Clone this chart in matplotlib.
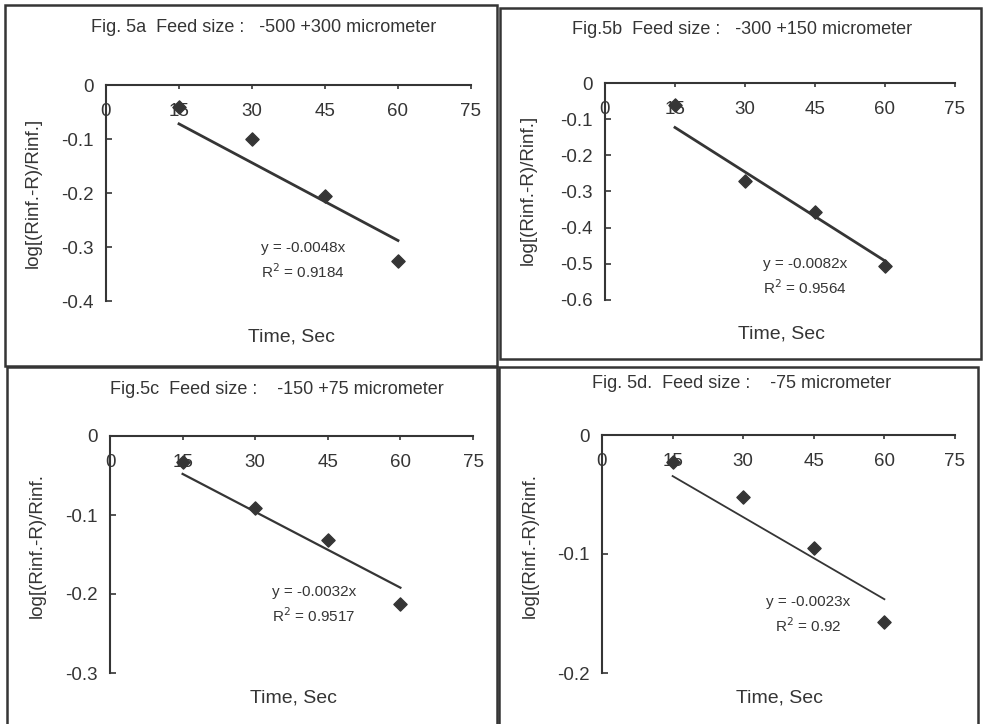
import numpy as np
import matplotlib
matplotlib.use("Agg")
import matplotlib.pyplot as plt
from matplotlib.patches import Rectangle

plt.rcParams['font.family'] = ['Liberation Sans', 'DejaVu Sans']
plt.rcParams['axes.unicode_minus'] = False

INK = '#353535'

# data
time_s = [15, 30, 45, 60]
vals_a = [-0.040, -0.100, -0.206, -0.325]
vals_b = [-0.062, -0.272, -0.358, -0.507]
vals_c = [-0.033, -0.091, -0.132, -0.213]
vals_d = [-0.023, -0.052, -0.095, -0.157]

slopes = [-0.0048, -0.0082, -0.0032, -0.0023]
r2_vals = ['0.9184', '0.9564', '0.9517', '0.92']
titles = ['Fig. 5a  Feed size :   -500 +300 micrometer',
          'Fig.5b  Feed size :   -300 +150 micrometer',
          'Fig.5c  Feed size :    -150 +75 micrometer',
          'Fig. 5d.  Feed size :    -75 micrometer']
ylabels = ['log[(Rinf.-R)/Rinf.]', 'log[(Rinf.-R)/Rinf.]',
           'log[(Rinf.-R)/Rinf.', 'log[(Rinf.-R)/Rinf.']
y_mins = [-0.4, -0.6, -0.3, -0.2]
x_ticks = [0, 15, 30, 45, 60, 75]

W, H = 987, 724
fig = plt.figure(figsize=(W / 100, H / 100), dpi=100)
fig.patch.set_facecolor('white')


def fx(px):
    return px / W


def fy(py):
    return 1 - py / H


# panel layout in pixels: box (l, t, r, b), axes (l, t, r, b), text anchors
panels = [
    dict(box=(5, 5, 497, 366), ax=(106, 85, 471, 301), title=(264, 28),
         ylab=(33, 193), xlab=(291, 337), eq=(303, 241), lw=2.0),
    dict(box=(500, 8, 981, 359), ax=(605, 83, 955, 300), title=(742, 30),
         ylab=(528, 190), xlab=(781, 334), eq=(805, 257), lw=2.0),
    dict(box=(7, 367, 497, 730), ax=(110, 436, 473, 673), title=(277, 390),
         ylab=(37, 545), xlab=(293, 698), eq=(314, 585), lw=1.6),
    dict(box=(499, 367, 978, 730), ax=(602, 435, 955, 673), title=(742, 383),
         ylab=(530, 545), xlab=(779, 698), eq=(808, 595), lw=1.3),
]
series = [vals_a, vals_b, vals_c, vals_d]

for i, p in enumerate(panels):
    bl, bt, br, bb = p['box']
    fig.add_artist(Rectangle((fx(bl), fy(bb)), fx(br - bl), (bb - bt) / H,
                             transform=fig.transFigure, fill=False,
                             edgecolor=INK, linewidth=1.8))

    l, t, r, b = p['ax']
    ax = fig.add_axes([fx(l), fy(b), fx(r - l), (b - t) / H])
    ax.set_facecolor('none')

    ax.scatter(time_s, series[i], marker='D', s=45, color=INK, zorder=3)
    xfit = np.array([time_s[0], time_s[-1]])
    ax.plot(xfit, slopes[i] * xfit, color=INK, linewidth=p['lw'])

    ax.set_xlim(0, 75)
    ax.set_ylim(y_mins[i], 0)
    ax.set_xticks(x_ticks)
    yt = np.round(np.arange(0, y_mins[i] - 1e-9, -0.1), 1)
    ax.set_yticks(yt)
    ax.set_yticklabels(['0' if v == 0 else f'{v:.1f}' for v in yt])

    ax.spines['right'].set_visible(False)
    ax.spines['top'].set_visible(False)
    ax.spines['bottom'].set_position(('data', 0))
    for s in ('left', 'bottom'):
        ax.spines[s].set_color(INK)
        ax.spines[s].set_linewidth(1.5)
    ax.tick_params(axis='x', direction='out', length=3, width=1.2,
                   pad=10, labelsize=13.5, colors=INK)
    ax.tick_params(axis='y', direction='in', length=4, width=1.2,
                   pad=9, labelsize=13.5, colors=INK)

    fig.text(fx(p['title'][0]), fy(p['title'][1]), titles[i], ha='center',
             va='center', fontsize=13, color=INK)
    fig.text(fx(p['ylab'][0]), fy(p['ylab'][1]), ylabels[i], ha='center',
             va='center', rotation=90, fontsize=13.5, color=INK)
    fig.text(fx(p['xlab'][0]), fy(p['xlab'][1]), 'Time, Sec', ha='center',
             va='center', fontsize=14, color=INK)
    fig.text(fx(p['eq'][0]), fy(p['eq'][1]),
             f'y = {slopes[i]}x\nR$^2$ = {r2_vals[i]}', ha='center',
             va='top', fontsize=11, color=INK, linespacing=1.45)

fig.savefig('out.png', dpi=100, facecolor='white')
